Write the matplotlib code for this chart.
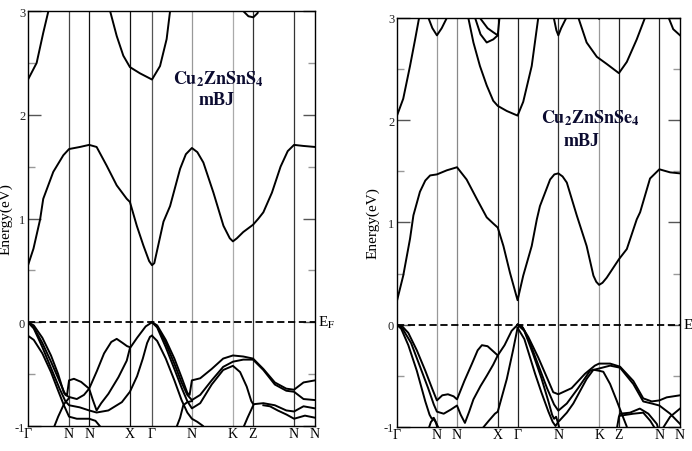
import numpy as np
import matplotlib.pyplot as plt

plt.rcParams['font.family'] = ['Liberation Serif', 'DejaVu Serif']
plt.rcParams['mathtext.fontset'] = 'stix'
plt.rcParams['axes.unicode_minus'] = False

# etiquetas del camino en la zona de Brillouin
kpath_labels = ['Γ', 'N', 'N', 'X', 'Γ', 'N', 'K', 'Z', 'N', 'N']
cts_kticks = [0.0, 0.143, 0.213, 0.355, 0.432, 0.571, 0.714, 0.784, 0.927, 1.0]
czts_kticks = [0.0, 0.141, 0.212, 0.356, 0.426, 0.570, 0.714, 0.784, 0.927, 1.0]
energy_ticks = [-1, 0, 1, 2, 3]

# ---- Cu2ZnSnS4 (k, E en eV) ----
cts_cb1 = [(0, 0.55), (0.019, 0.71), (0.042, 0.99), (0.053, 1.19), (0.088, 1.45), (0.123, 1.61),
           (0.143, 1.67), (0.181, 1.69), (0.213, 1.71), (0.239, 1.69), (0.274, 1.51), (0.309, 1.32),
           (0.344, 1.19), (0.355, 1.16), (0.379, 0.93), (0.402, 0.74), (0.422, 0.59), (0.432, 0.55),
           (0.44, 0.57), (0.448, 0.67), (0.472, 0.97), (0.495, 1.12), (0.530, 1.48), (0.55, 1.62),
           (0.571, 1.68), (0.59, 1.64), (0.611, 1.54), (0.646, 1.25), (0.681, 0.93), (0.692, 0.87),
           (0.703, 0.81), (0.714, 0.78), (0.728, 0.81), (0.750, 0.87), (0.784, 0.94), (0.803, 1.0),
           (0.82, 1.06), (0.85, 1.25), (0.88, 1.5), (0.905, 1.65), (0.927, 1.71), (0.959, 1.70), (1.0, 1.69)]
cts_cb2a = [(0, 2.34), (0.030, 2.50), (0.053, 2.79), (0.071, 3.0), (0.075, 3.1)]
cts_cb2b = [(0.282, 3.1), (0.286, 3.0), (0.309, 2.76), (0.332, 2.57), (0.355, 2.46), (0.390, 2.40),
            (0.432, 2.34), (0.460, 2.47), (0.483, 2.73), (0.495, 3.0), (0.5, 3.1)]
cts_cb3 = [(0.745, 3.1), (0.750, 3.0), (0.768, 2.95), (0.785, 2.94), (0.80, 2.98), (0.808, 3.1)]

cts_v1 = [(0, 0), (0.02, -0.03), (0.05, -0.15), (0.08, -0.32), (0.105, -0.5), (0.125, -0.68),
          (0.136, -0.7), (0.143, -0.56), (0.16, -0.545), (0.185, -0.575), (0.213, -0.64), (0.226, -0.75),
          (0.239, -0.85), (0.255, -0.78), (0.28, -0.69), (0.315, -0.53), (0.344, -0.37), (0.355, -0.25),
          (0.38, -0.15), (0.41, -0.04), (0.432, 0)]
cts_v2 = [(0, 0), (0.02, -0.05), (0.05, -0.2), (0.08, -0.38), (0.11, -0.57), (0.13, -0.7), (0.143, -0.72),
          (0.17, -0.74), (0.195, -0.7), (0.213, -0.64), (0.24, -0.47), (0.265, -0.3), (0.29, -0.19),
          (0.309, -0.16), (0.33, -0.2), (0.345, -0.23), (0.355, -0.24)]
cts_v3 = [(0, 0), (0.02, -0.06), (0.05, -0.24), (0.08, -0.44), (0.11, -0.64), (0.13, -0.76), (0.143, -0.8),
          (0.18, -0.82), (0.213, -0.85), (0.239, -0.87), (0.28, -0.85), (0.327, -0.77), (0.355, -0.67),
          (0.38, -0.52), (0.40, -0.35), (0.415, -0.2), (0.425, -0.14), (0.432, -0.13)]
cts_v4 = [(0, -0.13), (0.02, -0.17), (0.05, -0.3), (0.08, -0.48), (0.105, -0.66), (0.125, -0.8),
          (0.143, -0.91), (0.17, -0.93), (0.213, -0.93), (0.235, -0.95), (0.25, -1.0), (0.26, -1.05)]
cts_v5 = [(0.085, -1.05), (0.105, -0.91), (0.125, -0.79), (0.143, -0.73)]
cts_v6 = [(0.432, 0), (0.45, -0.03), (0.48, -0.17), (0.51, -0.35), (0.535, -0.53), (0.555, -0.68),
          (0.563, -0.7), (0.571, -0.56), (0.60, -0.54), (0.64, -0.45), (0.68, -0.35), (0.714, -0.32),
          (0.75, -0.33), (0.784, -0.35), (0.82, -0.45), (0.86, -0.58), (0.90, -0.64), (0.927, -0.65),
          (0.96, -0.58), (1.0, -0.56)]
cts_v7 = [(0.432, 0), (0.45, -0.04), (0.48, -0.2), (0.51, -0.4), (0.535, -0.58), (0.555, -0.7),
          (0.571, -0.75), (0.60, -0.7), (0.64, -0.56), (0.68, -0.43), (0.714, -0.38), (0.75, -0.36),
          (0.784, -0.36), (0.82, -0.46), (0.86, -0.6), (0.90, -0.66), (0.927, -0.67), (0.96, -0.74), (1.0, -0.75)]
cts_v8 = [(0.432, 0), (0.45, -0.05), (0.48, -0.24), (0.51, -0.45), (0.535, -0.63), (0.555, -0.76),
          (0.571, -0.83), (0.60, -0.78), (0.64, -0.6), (0.68, -0.46), (0.714, -0.42), (0.739, -0.48),
          (0.762, -0.62), (0.778, -0.76), (0.785, -0.79), (0.82, -0.78), (0.86, -0.8), (0.90, -0.85),
          (0.927, -0.86), (0.96, -0.81), (1.0, -0.83)]
cts_v9 = [(0.745, -1.05), (0.765, -0.92), (0.785, -0.80)]
cts_v10 = [(0.432, -0.13), (0.45, -0.18), (0.48, -0.35), (0.51, -0.56), (0.535, -0.75), (0.555, -0.87),
           (0.571, -0.93), (0.59, -0.96), (0.61, -1.0), (0.62, -1.05)]
cts_v11 = [(0.512, -1.05), (0.53, -0.92), (0.541, -0.8), (0.555, -0.77), (0.571, -0.76)]
cts_v12 = [(0.82, -0.8), (0.843, -0.81), (0.87, -0.85), (0.901, -0.89), (0.927, -0.93), (0.965, -0.9), (1.0, -0.92)]

cts_bands = [cts_cb1, cts_cb2a, cts_cb2b, cts_cb3, cts_v1, cts_v2, cts_v3, cts_v4, cts_v5,
             cts_v6, cts_v7, cts_v8, cts_v9, cts_v10, cts_v11, cts_v12]

# ---- Cu2ZnSnSe4 ----
czts_cb1 = [(0, 0.235), (0.022, 0.48), (0.046, 0.84), (0.058, 1.07), (0.081, 1.30), (0.10, 1.41), (0.117, 1.46),
            (0.141, 1.47), (0.176, 1.51), (0.212, 1.54), (0.246, 1.42), (0.282, 1.23), (0.317, 1.05),
            (0.340, 0.99), (0.356, 0.95), (0.376, 0.77), (0.399, 0.51), (0.426, 0.24), (0.446, 0.48),
            (0.476, 0.77), (0.494, 1.03), (0.505, 1.16), (0.541, 1.42), (0.556, 1.47), (0.570, 1.48),
            (0.585, 1.45), (0.600, 1.39), (0.635, 1.07), (0.670, 0.77), (0.694, 0.48), (0.704, 0.42),
            (0.714, 0.39), (0.726, 0.41), (0.741, 0.46), (0.784, 0.64), (0.812, 0.74), (0.847, 1.03),
            (0.859, 1.10), (0.894, 1.43), (0.927, 1.52), (0.965, 1.49), (1.0, 1.48)]
czts_cb2a = [(0, 2.045), (0.022, 2.21), (0.046, 2.53), (0.064, 2.79), (0.078, 3.0), (0.082, 3.1)]
czts_cb2b = [(0.105, 3.1), (0.111, 3.0), (0.125, 2.9), (0.141, 2.83), (0.158, 2.9), (0.176, 3.0), (0.18, 3.1)]
czts_cb2c = [(0.247, 3.1), (0.252, 3.0), (0.270, 2.76), (0.293, 2.53), (0.317, 2.34), (0.340, 2.19),
             (0.356, 2.14), (0.388, 2.09), (0.426, 2.045), (0.446, 2.18), (0.476, 2.53), (0.499, 3.0), (0.504, 3.1)]
czts_cb3 = [(0.274, 3.05), (0.276, 3.0), (0.295, 2.84), (0.317, 2.76), (0.34, 2.79), (0.356, 2.83),
            (0.362, 3.0), (0.364, 3.1)]
czts_cb4 = [(0.293, 3.0), (0.32, 2.9), (0.34, 2.86), (0.356, 2.83)]
czts_cb5 = [(0.55, 3.1), (0.554, 3.0), (0.563, 2.88), (0.570, 2.83), (0.58, 2.9), (0.598, 3.0), (0.602, 3.1)]
czts_cb6 = [(0.637, 3.1), (0.641, 3.0), (0.670, 2.76), (0.706, 2.62), (0.741, 2.55), (0.784, 2.46),
            (0.812, 2.57), (0.847, 2.79), (0.876, 3.0), (0.88, 3.1)]
czts_cb7 = [(0.955, 3.1), (0.96, 3.0), (0.976, 2.89), (1.0, 2.83)]
czts_cb8 = [(0.708, 3.1), (0.714, 2.99), (0.72, 3.1)]

czts_v1 = [(0, 0), (0.02, -0.02), (0.04, -0.08), (0.07, -0.25), (0.10, -0.45), (0.125, -0.63), (0.141, -0.74),
           (0.16, -0.69), (0.18, -0.68), (0.20, -0.70), (0.212, -0.73), (0.238, -0.55), (0.265, -0.38),
           (0.285, -0.25), (0.30, -0.2), (0.32, -0.21), (0.34, -0.26), (0.356, -0.30), (0.38, -0.2),
           (0.405, -0.06), (0.426, 0)]
czts_v2 = [(0, 0), (0.02, -0.04), (0.05, -0.18), (0.08, -0.4), (0.11, -0.62), (0.13, -0.78), (0.141, -0.85),
           (0.165, -0.87), (0.19, -0.83), (0.212, -0.79), (0.225, -0.88), (0.24, -0.96), (0.255, -0.85),
           (0.27, -0.73), (0.295, -0.6), (0.317, -0.5), (0.34, -0.39), (0.356, -0.30)]
czts_v3 = [(0.30, -1.02), (0.324, -0.94), (0.346, -0.87), (0.356, -0.85), (0.388, -0.53), (0.41, -0.25),
           (0.426, -0.03)]
czts_v4 = [(0, 0), (0.015, -0.04), (0.04, -0.2), (0.07, -0.45), (0.10, -0.75), (0.115, -0.88),
           (0.123, -0.92), (0.13, -0.91), (0.137, -0.95), (0.141, -0.99), (0.145, -1.03)]
czts_v5 = [(0.11, -1.03), (0.12, -0.95), (0.13, -0.92), (0.14, -0.97), (0.15, -1.03)]
czts_v6 = [(0.426, 0), (0.44, -0.01), (0.464, -0.12), (0.499, -0.32), (0.535, -0.55), (0.552, -0.66),
           (0.570, -0.68), (0.617, -0.62), (0.664, -0.48), (0.699, -0.40), (0.714, -0.38), (0.753, -0.38),
           (0.788, -0.41), (0.835, -0.55), (0.87, -0.72), (0.90, -0.75), (0.927, -0.74), (0.953, -0.71), (1.0, -0.69)]
czts_v7 = [(0.426, 0), (0.445, -0.03), (0.47, -0.18), (0.50, -0.4), (0.53, -0.62), (0.555, -0.78),
           (0.570, -0.84), (0.60, -0.77), (0.64, -0.62), (0.682, -0.45), (0.711, -0.43), (0.753, -0.40),
           (0.788, -0.42), (0.835, -0.58), (0.87, -0.75), (0.90, -0.77), (0.927, -0.79), (0.965, -0.87), (1.0, -0.97)]
czts_v8 = [(0.426, -0.03), (0.45, -0.14), (0.488, -0.48), (0.51, -0.66), (0.535, -0.85), (0.55, -0.95),
           (0.56, -0.99), (0.570, -0.95), (0.60, -0.86), (0.623, -0.77), (0.670, -0.53), (0.694, -0.44),
           (0.714, -0.45), (0.729, -0.46), (0.753, -0.58), (0.776, -0.74), (0.794, -0.87), (0.811, -0.99), (0.815, -1.03)]
czts_v9 = [(0.426, 0), (0.45, -0.06), (0.48, -0.28), (0.51, -0.52), (0.535, -0.75), (0.548, -0.88),
           (0.555, -0.92), (0.562, -0.9), (0.570, -0.97), (0.575, -1.03)]
czts_v10 = [(0.776, -1.03), (0.784, -0.9), (0.788, -0.87), (0.823, -0.86), (0.858, -0.82), (0.888, -0.87),
            (0.918, -0.97), (0.925, -1.03)]
czts_v11 = [(0.788, -0.89), (0.835, -0.87), (0.87, -0.86), (0.895, -0.94), (0.915, -1.03)]
czts_v12 = [(0.935, -1.03), (0.965, -0.9), (1.0, -0.82)]

czts_bands = [czts_cb1, czts_cb2a, czts_cb2b, czts_cb2c, czts_cb3, czts_cb4, czts_cb5, czts_cb6,
              czts_cb7, czts_cb8, czts_v1, czts_v2, czts_v3, czts_v4, czts_v5, czts_v6, czts_v7,
              czts_v8, czts_v9, czts_v10, czts_v11, czts_v12]

# colores de las lineas verticales (algunas grises en el original)
cts_vline_colors = ['#444444', '#111111', '#111111', '#555555', '#999999', '#aaaaaa', '#333333', '#333333']
czts_vline_colors = ['#999999', '#888888', '#222222', '#222222', '#333333', '#999999', '#222222', '#222222']


def draw_panel(ax, bands, kticks, vcolors, title, title_xy, mbj_xy, ylabel_x):
    for xk, c in zip(kticks[1:-1], vcolors):
        ax.axvline(xk, color=c, lw=0.9, zorder=1)
    for band in bands:
        k, e = zip(*band)
        ax.plot(k, e, color='black', lw=1.4, zorder=2, solid_joinstyle='round')
    ax.axhline(0, color='black', lw=1.3, ls=(0, (4, 2)), zorder=3)

    ax.set_xlim(0, 1)
    ax.set_ylim(-1, 3)
    ax.set_xticks(kticks)
    ax.set_xticklabels(kpath_labels, fontsize=10)
    ax.tick_params(axis='x', length=0, pad=1)
    ax.set_yticks(energy_ticks)
    ax.set_yticks([-0.5, 0.5, 1.5, 2.5], minor=True)
    ax.tick_params(axis='y', which='both', direction='in', left=True, right=True,
                   labelsize=9, pad=2, labelcolor='#222222')
    ax.tick_params(axis='y', which='major', length=9, width=1, color='#555555')
    ax.tick_params(axis='y', which='minor', length=5, width=1, color='#999999')
    for s in ax.spines.values():
        s.set_linewidth(1.0)

    ax.set_ylabel('Energy(eV)', fontsize=11)
    ax.yaxis.set_label_coords(ylabel_x, 0.5)

    ax.text(1.012, 0, r'E$_\mathrm{F}$', transform=ax.get_yaxis_transform(),
            fontsize=11, va='center', ha='left')
    ax.text(title_xy[0], title_xy[1], title, fontsize=13, fontweight='bold',
            color='#0b0b30', ha='center', va='center')
    ax.text(mbj_xy[0], mbj_xy[1], 'mBJ', fontsize=13, fontweight='bold',
            color='#0b0b30', ha='center', va='center')


fig = plt.figure(figsize=(6.92, 4.52), dpi=100)
ax1 = fig.add_axes([0.0405, 0.0553, 0.4147, 0.918])
ax2 = fig.add_axes([0.5737, 0.0531, 0.409, 0.905])

draw_panel(ax1, cts_bands, cts_kticks, cts_vline_colors, r'$\mathbf{Cu_2ZnSnS_4}$',
           (0.663, 2.35), (0.657, 2.15), -0.055)
draw_panel(ax2, czts_bands, czts_kticks, czts_vline_colors, r'$\mathbf{Cu_2ZnSnSe_4}$',
           (0.682, 2.03), (0.652, 1.80), -0.06)

fig.savefig('out.png', dpi=100)
